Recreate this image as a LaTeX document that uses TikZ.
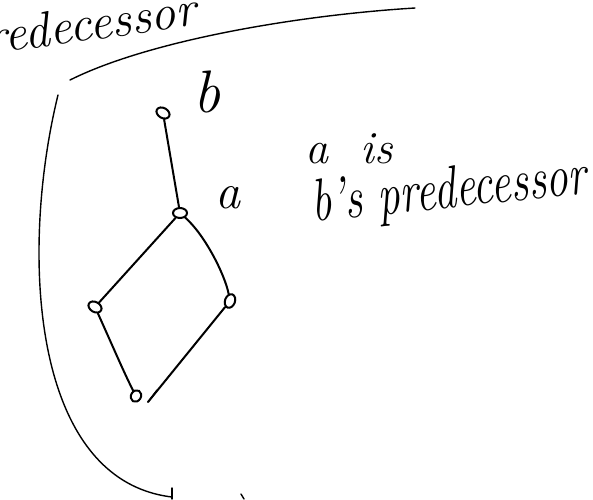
\documentclass[tikz,border=0pt]{standalone}
\usetikzlibrary{shapes.geometric}
\begin{document}
\begin{tikzpicture}[x=1pt,y=-1pt,
  stroke/.style={line width=2pt,line cap=round,line join=round},
  thinstroke/.style={line width=1.4pt,line cap=round,line join=round},
  vert/.style={ellipse,draw,line width=2pt,minimum width=14pt,minimum height=10pt,inner sep=0pt}]
\useasboundingbox (0,0) rectangle (593,499);
\clip (0,0) rectangle (593,499);
% top-left heading (cut off)
\node[font=\itshape\fontsize{50}{50}\selectfont,rotate=8,anchor=base west,inner sep=0pt] (head) at (-36,58) {predecessor};
% top arc
\draw[thinstroke] (70,80) .. controls (150,40) and (300,15) .. (415,8);
% left big arc
\draw[thinstroke] (58,95) .. controls (20,250) and (30,480) .. (172,497);
\draw[thinstroke] (172,488) -- (172,499);
\draw[thinstroke] (241,494) -- (244,499);
% vertices
\node[vert,rotate=-30] (b) at (163,113) {};
\node[vert] (a) at (180,213) {};
\node[vert,rotate=-30] (l) at (95,307) {};
\node[vert,rotate=70] (r) at (230,301) {};
\node[vert,rotate=60,minimum width=12pt] (d) at (136,396) {};
% labels
\node[font=\itshape\fontsize{60}{60}\selectfont] (lb) at (207,92) {b};
\node[font=\itshape\fontsize{50}{50}\selectfont] (la) at (228,198) {a};
% edges
\draw[stroke] (b) -- (a);
\draw[stroke] (a) -- (l);
\draw[stroke] (a) .. controls (205,235) and (225,275) .. (r);
\draw[stroke] (l) .. controls (110,340) and (125,375) .. (d);
\draw[stroke] (r) -- (148,402);
\draw[thinstroke] (148,402) -- (157,390);
% side text
\node[font=\itshape\fontsize{46}{46}\selectfont,anchor=base west,inner sep=0pt] (t1) at (305,163) {a\hspace{0.7em}is};
\node[font=\itshape\fontsize{60}{60}\selectfont,rotate=6,anchor=base west,inner sep=0pt,xscale=0.74] (t2) at (313,222) {b's predecessor};
\end{tikzpicture}
\end{document}
